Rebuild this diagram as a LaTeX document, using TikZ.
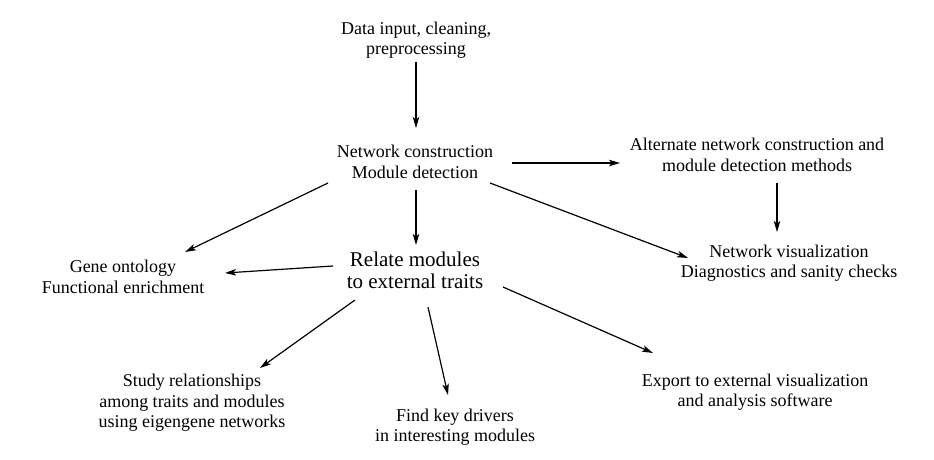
\documentclass[tikz,border=0pt]{standalone}
\usepackage{fontspec}
\setmainfont{Liberation Serif}
\newfontfamily\tms{Liberation Serif}
\usetikzlibrary{arrows.meta}
\begin{document}
\begin{tikzpicture}[x=1pt,y=-1pt,
  lbl/.style={align=center,inner sep=0pt,font=\tms\fontsize{18}{20.5}\selectfont},
  big/.style={align=center,inner sep=0pt,font=\tms\fontsize{21}{22}\selectfont},
  arr/.style={line width=1.2pt,-{Stealth[length=11pt,width=6.5pt,inset=2.5pt]}}]
\useasboundingbox (0,0) rectangle (934,460);
\node[lbl] (data) at (416,40) {Data input, cleaning,\\preprocessing};
\node[lbl] (net) at (415,162) {Network construction\\Module detection};
\node[lbl] (alt) at (757,155) {Alternate network construction and\\module detection methods};
\node[lbl] (vis) at (789,263) {Network visualization\\Diagnostics and sanity checks};
\node[big] (relate) at (415,270) {Relate modules\\to external traits};
\node[lbl] (gene) at (123,277) {Gene ontology\\Functional enrichment};
\node[lbl] (study) at (192,403) {Study relationships\\among traits and modules\\using eigengene networks};
\node[lbl] (find) at (455,427) {Find key drivers\\in interesting modules};
\node[lbl] (export) at (755,392) {Export to external visualization\\and analysis software};
\draw[arr] ([shift={(0,22)}]data.center) -- ([shift={(1,-34)}]net.center);
\draw[arr] ([shift={(97,1)}]net.center) -- ([shift={(-137,8)}]alt.center);
\draw[arr] ([shift={(-87,21)}]net.center) -- ([shift={(62,-25)}]gene.center);
\draw[arr] ([shift={(1,28)}]net.center) -- ([shift={(1,-25)}]relate.center);
\draw[arr] ([shift={(75,21)}]net.center) -- ([shift={(-101,-5)}]vis.center);
\draw[arr] ([shift={(20,28)}]alt.center) -- ([shift={(-12,-31)}]vis.center);
\draw[arr] ([shift={(-82,-4)}]relate.center) -- ([shift={(102,-4)}]gene.center);
\draw[arr] ([shift={(-60,30)}]relate.center) -- ([shift={(68,-35)}]study.center);
\draw[arr] ([shift={(13,37)}]relate.center) -- ([shift={(-7,-32)}]find.center);
\draw[arr] ([shift={(88,17)}]relate.center) -- ([shift={(-102,-39)}]export.center);
\end{tikzpicture}
\end{document}
